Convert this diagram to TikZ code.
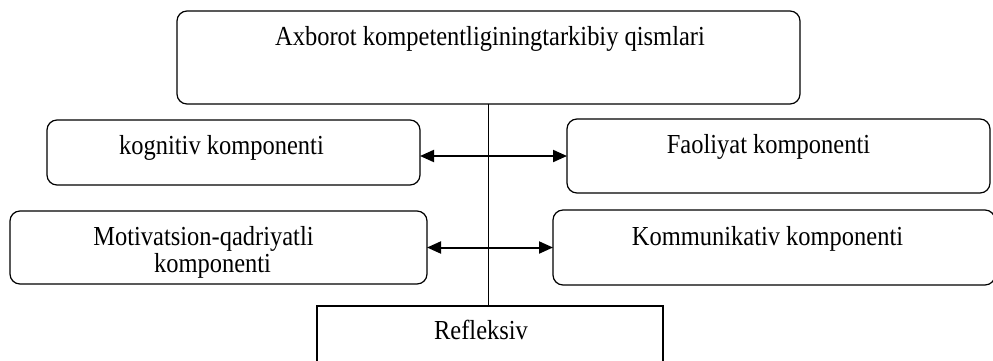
\documentclass[tikz,border=0pt]{standalone}
\usepackage{fontspec}
\setmainfont[FakeStretch=0.89]{Liberation Serif}
\usetikzlibrary{arrows.meta}
\tikzset{
  box/.style={draw, line width=1.2pt, rounded corners=10pt, inner sep=0pt, outer sep=0pt},
  sqbox/.style={draw, line width=1.2pt, inner sep=0pt, outer sep=0pt},
  lbl/.style={anchor=base, inner sep=0pt, font=\fontsize{27.5}{27}\selectfont},
  link/.style={line width=1.1pt},
  dblarrow/.style={line width=2pt, {Triangle[length=14pt,width=12pt]}-{Triangle[length=14pt,width=12pt]}}
}
\begin{document}
\begin{tikzpicture}[x=1pt,y=-1pt]
\useasboundingbox (0,0) rectangle (993,360);
\clip (0,0) rectangle (993,360);
% boxes
\node[box, minimum width=623pt, minimum height=93pt] (top) at (488.5,57.5) {};
\node[box, minimum width=373pt, minimum height=65pt] (kog) at (233.5,152.5) {};
\node[box, minimum width=423pt, minimum height=74pt] (faol) at (778.5,156) {};
\node[box, minimum width=417pt, minimum height=73pt] (motiv) at (218.5,247.5) {};
\node[box, minimum width=442pt, minimum height=75pt] (komm) at (774,247.5) {};
\node[sqbox, minimum width=346pt, minimum height=70pt] (refl) at (490,341) {};
% texts
\node[lbl] (ttop) at (490,45) {Axborot kompetentliginingtarkibiy qismlari};
\node[lbl] (tkog) at (221.5,154) {kognitiv komponenti};
\node[lbl] (tfaol) at (768.5,153) {Faoliyat komponenti};
\node[lbl] (tmotiv1) at (203.5,245) {Motivatsion-qadriyatli};
\node[lbl] (tmotiv2) at (212.5,272) {komponenti};
\node[lbl] (tkomm) at (767.5,245) {Kommunikativ komponenti};
\node[lbl] (trefl) at (481,339) {Refleksiv};
% connectors
\draw[link] (top.south) -- (top.south |- refl.north);
\draw[dblarrow] (kog.east |- faol.west) -- (faol.west);
\draw[dblarrow] (motiv.east) -- (komm.west);
\end{tikzpicture}
\end{document}
